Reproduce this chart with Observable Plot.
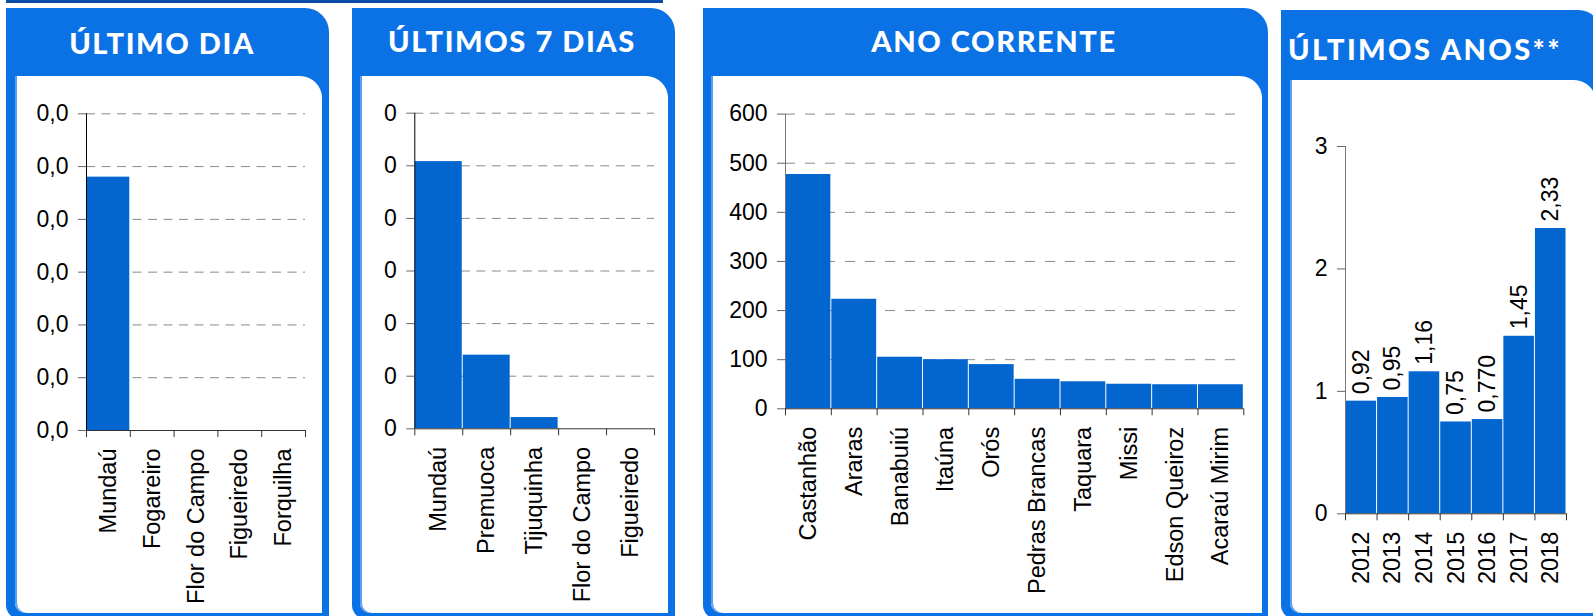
<!DOCTYPE html>
<html>
<head>
<meta charset="utf-8">
<script src="https://cdn.jsdelivr.net/npm/d3@7"></script>
<script src="https://cdn.jsdelivr.net/npm/@observablehq/plot@0.6"></script>
<style>
  html, body { margin: 0; padding: 0; background: #fff; }
  body { position: relative; width: 1593px; height: 616px; overflow: hidden; font-family: "Liberation Sans", Arial, sans-serif; }
  .topbar { position: absolute; left: 6px; top: 0; width: 657px; height: 3px; background: #0b4ca8; }
  .panel { position: absolute; background: #0a72e4; border-top-right-radius: 24px; border-bottom-left-radius: 14px; }
  .inner { position: absolute; background: #fff; border-top-right-radius: 22px; border-bottom-left-radius: 10px; box-shadow: inset 2px 0 0 #5d9ef0; }
  .title { position: absolute; color: #fff; font-family: Lato, "Open Sans", sans-serif; font-weight: 900; font-size: 29px; line-height: 29px; letter-spacing: 1.6px; white-space: nowrap; }
  .chart { position: absolute; z-index: 2; }
</style>
</head>
<body>
<div class="topbar"></div>
<script>
// ---------- data ----------
const titles = ["ÚLTIMO DIA", "ÚLTIMOS 7 DIAS", "ANO CORRENTE", "ÚLTIMOS ANOS**"];

const dayCats = ["Mundaú", "Fogareiro", "Flor do Campo", "Figueiredo", "Forquilha"];
const dayValues = [0.024, 0, 0, 0, 0];
const dayTicks = [0, 0.005, 0.01, 0.015, 0.02, 0.025, 0.03];

const weekCats = ["Mundaú", "Premuoca", "Tijuquinha", "Flor do Campo", "Figueiredo"];
const weekValues = [0.254, 0.070, 0.0107, 0, 0];
const weekTicks = [0, 0.05, 0.1, 0.15, 0.2, 0.25, 0.3];

const yearCats = ["Castanhão", "Araras", "Banabuiú", "Itaúna", "Orós", "Pedras Brancas", "Taquara", "Missi", "Edson Queiroz", "Acaraú Mirim"];
const yearValues = [477, 223, 105, 100, 90, 60, 55, 50, 49, 49];
const yearTicks = [0, 100, 200, 300, 400, 500, 600];

const pastYears = ["2012", "2013", "2014", "2015", "2016", "2017", "2018"];
const pastValues = [0.92, 0.95, 1.16, 0.75, 0.77, 1.45, 2.33];
const pastLabels = ["0,92", "0,95", "1,16", "0,75", "0,770", "1,45", "2,33"];
const pastTicks = [0, 1, 2, 3];

// ---------- layout helpers ----------
function panel({left, top, right, bottom, headerBottom, inL, inR, title, titleX, titleTop, align, spacing}) {
  const p = document.createElement("div");
  p.className = "panel";
  Object.assign(p.style, {left: left + "px", top: top + "px", width: (right - left) + "px", height: (bottom - top) + "px"});
  const i = document.createElement("div");
  i.className = "inner";
  Object.assign(i.style, {left: (inL - left) + "px", top: (headerBottom - top) + "px", width: (inR - inL) + "px", height: (bottom - 6 - headerBottom) + "px"});
  p.appendChild(i);
  document.body.appendChild(p);
  const t = document.createElement("div");
  t.className = "title";
  t.textContent = title;
  t.style.top = titleTop + "px";
  t.style.left = titleX + "px";
  if (spacing != null) t.style.letterSpacing = spacing + "px";
  if (align === "center") t.style.transform = "translateX(-50%)";
  document.body.appendChild(t);
}

const BAR = "#0366cf";
const FONT = "Liberation Sans, Arial, sans-serif";

function chart({cats, values, ticks, fmt, svgL, svgT, svgR, svgB, x0, x1, y0, y1, grid, dash, valueLabels, axisColor}) {
  const n = cats.length;
  const max = ticks[ticks.length - 1];
  const marks = [];
  if (grid) marks.push(Plot.ruleY(ticks.slice(1), {stroke: "#8a8a8a", strokeWidth: 1, strokeDasharray: dash}));
  marks.push(Plot.rectY(values, {x1: (d, i) => i, x2: (d, i) => i + 1, y: d => d, fill: BAR, insetLeft: 0.5, insetRight: 0.5}));
  marks.push(Plot.ruleX([0], {stroke: axisColor, strokeWidth: 1}));
  marks.push(Plot.axisY({ticks, tickSize: 8, tickPadding: 10, tickFormat: fmt, stroke: "#666", fontSize: 23, fill: "#000", label: null}));
  marks.push(Plot.axisX({ticks: d3.range(n + 1), tickSize: 7, tickFormat: () => "", stroke: "#333", label: null}));
  marks.push(Plot.ruleY([0], {stroke: "#333", strokeWidth: 1}));
  marks.push(Plot.text(cats, {x: (d, i) => i + 0.5, y: 0, text: d => d, rotate: -90, textAnchor: "end", lineAnchor: "middle", dy: 18, fontSize: 23.5, fill: "#000"}));
  if (valueLabels) marks.push(Plot.text(values, {x: (d, i) => i + 0.5, y: d => d, text: (d, i) => valueLabels[i], rotate: -90, textAnchor: "start", lineAnchor: "middle", dy: -7, fontSize: 23, fill: "#000"}));
  const svg = Plot.plot({
    width: svgR - svgL,
    height: svgB - svgT,
    marginLeft: x0 - svgL,
    marginRight: svgR - x1,
    marginTop: y0 - svgT,
    marginBottom: svgB - y1,
    x: {type: "linear", domain: [0, n], axis: null},
    y: {type: "linear", domain: [0, max], axis: null},
    style: {fontFamily: FONT, fontSize: "23px", color: "#000", background: "transparent", overflow: "visible"},
    marks
  });
  svg.classList.add("chart");
  svg.style.left = svgL + "px";
  svg.style.top = svgT + "px";
  document.body.appendChild(svg);
}

const comma1 = v => d3.format(".1f")(v).replace(".", ",");
const int0 = v => d3.format(".0f")(v);

// ---------- panels ----------
panel({left: 6, top: 8, right: 329, bottom: 619, headerBottom: 76, inL: 15, inR: 322, title: titles[0], titleX: 162, titleTop: 27.5, align: "center"});
panel({left: 352, top: 8, right: 675, bottom: 619, headerBottom: 76, inL: 360, inR: 668, title: titles[1], titleX: 512, titleTop: 26, align: "center"});
panel({left: 703, top: 8, right: 1268, bottom: 619, headerBottom: 76, inL: 711, inR: 1262, title: titles[2], titleX: 994, titleTop: 25.5, align: "center"});
panel({left: 1281, top: 10, right: 1602, bottom: 619, headerBottom: 80, inL: 1290, inR: 1596, title: titles[3], titleX: 1288, titleTop: 34, align: "left", spacing: 2.4});

chart({cats: dayCats, values: dayValues, ticks: dayTicks, fmt: comma1, svgL: 15, svgT: 80, svgR: 320, svgB: 610, x0: 86, x1: 305, y0: 113.3, y1: 430, grid: true, dash: "9,6.5", axisColor: "#000"});
chart({cats: weekCats, values: weekValues, ticks: weekTicks, fmt: int0, svgL: 360, svgT: 80, svgR: 665, svgB: 610, x0: 414.3, x1: 654, y0: 112.7, y1: 428.3, grid: true, dash: "9,6.5", axisColor: "#000"});
chart({cats: yearCats, values: yearValues, ticks: yearTicks, fmt: int0, svgL: 711, svgT: 80, svgR: 1259, svgB: 610, x0: 785, x1: 1243.3, y0: 113.6, y1: 408.3, grid: true, dash: "10,10", axisColor: "#777"});
chart({cats: pastYears, values: pastValues, ticks: pastTicks, fmt: int0, svgL: 1290, svgT: 84, svgR: 1590, svgB: 610, x0: 1345, x1: 1566, y0: 146, y1: 513.3, grid: false, dash: null, valueLabels: pastLabels, axisColor: "#777"});
</script>
</body>
</html>
